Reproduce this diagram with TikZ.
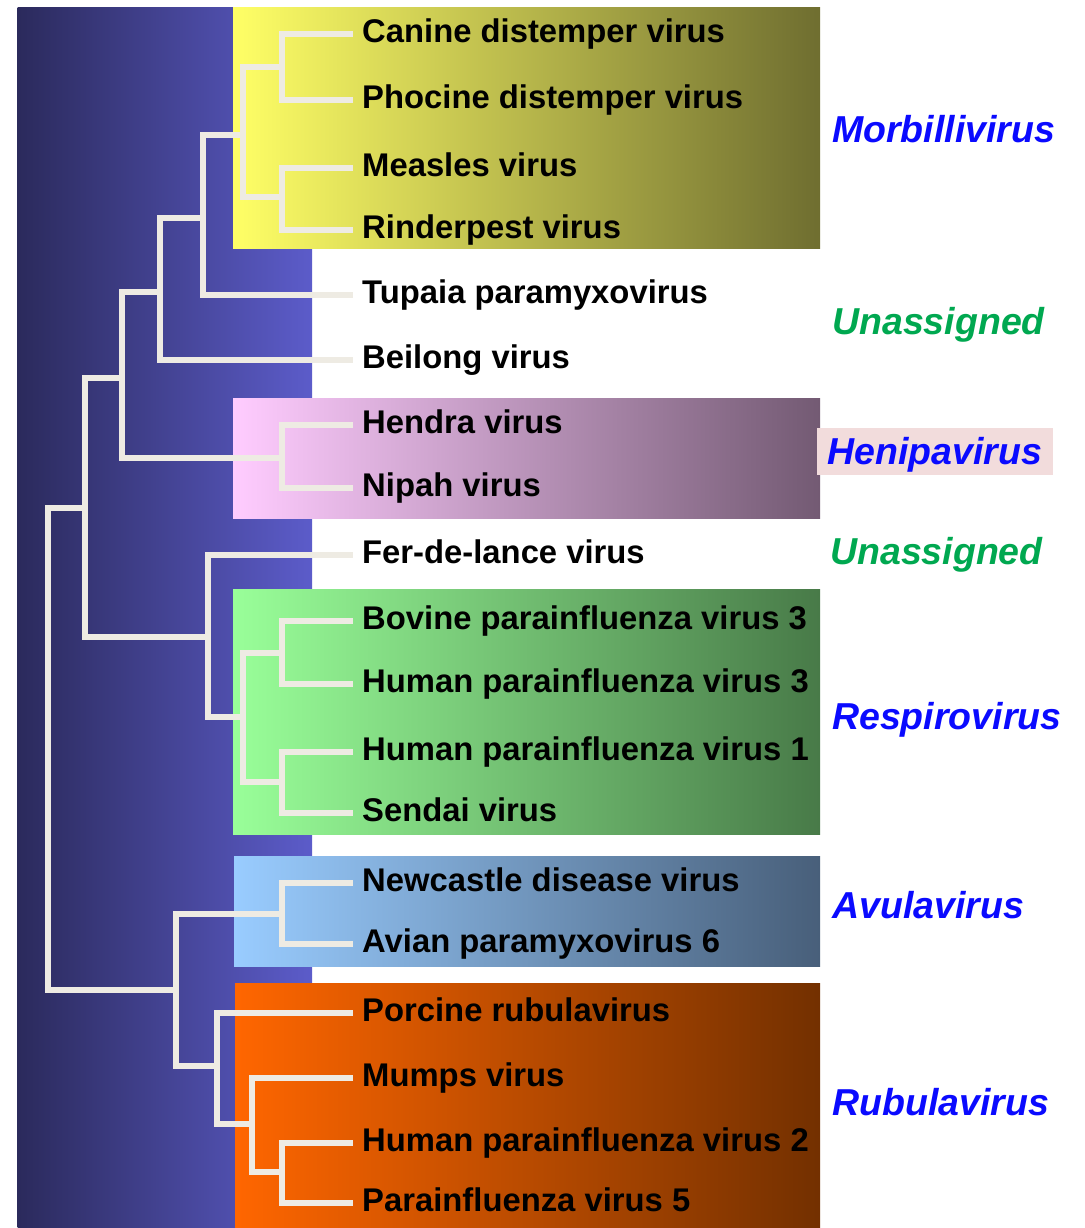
\documentclass[tikz,border=0pt]{standalone}
\usepackage{fontspec}
\setmainfont{Liberation Sans}
\usetikzlibrary{calc}
\definecolor{branchcol}{HTML}{EEEBE3}
\definecolor{panelL}{HTML}{2B2A5C}
\definecolor{panelR}{HTML}{5C5CCA}
\definecolor{morbL}{HTML}{FFFF66}
\definecolor{morbR}{HTML}{6F6E30}
\definecolor{heniL}{HTML}{FFCCFF}
\definecolor{heniR}{HTML}{735A73}
\definecolor{respL}{HTML}{99FF99}
\definecolor{respR}{HTML}{487A48}
\definecolor{avulL}{HTML}{99CCFF}
\definecolor{avulR}{HTML}{485F7A}
\definecolor{rubuL}{HTML}{FF6600}
\definecolor{rubuR}{HTML}{733000}
\definecolor{heniback}{HTML}{F2DCDC}
\definecolor{genusblue}{HTML}{0A0AFF}
\definecolor{unassgreen}{HTML}{00A850}

\begin{document}
\begin{tikzpicture}[x=1pt,y=-1pt,
  leaf/.style={anchor=west,inner xsep=9pt,inner ysep=0pt,text height=24pt,text depth=7pt,font=\fontsize{32.8}{36}\selectfont\bfseries},
  genus/.style={anchor=west,inner sep=0pt,text height=35pt,text depth=8.2pt,font=\fontsize{37.5}{40}\selectfont\bfseries\itshape,text=genusblue},
  unass/.style={genus,text=unassgreen},
  branch/.style={draw=branchcol,line width=6pt}]
  \useasboundingbox (0,0) rectangle (1084,1228);
  \shade[left color=panelL,right color=panelR] (17.5,7.5) rectangle (312,1228);
  \shade[left color=morbL,right color=morbR] (233,7.5) rectangle (820,248.5);
  \shade[left color=heniL,right color=heniR] (233,398) rectangle (820,518);
  \shade[left color=respL,right color=respR] (233,589.5) rectangle (820,834.5);
  \shade[left color=avulL,right color=avulR] (234,856) rectangle (820,966.5);
  \shade[left color=rubuL,right color=rubuR] (235,983) rectangle (820,1228);

  \node[leaf] (cdv) at (353,34) {Canine distemper virus};
  \node[leaf] (pdv) at (353,100) {Phocine distemper virus};
  \node[leaf] (mv) at (353,168) {Measles virus};
  \node[leaf] (rpv) at (353,230) {Rinderpest virus};
  \node[leaf] (tpmv) at (353,295) {Tupaia paramyxovirus};
  \node[leaf] (bev) at (353,360) {Beilong virus};
  \node[leaf] (hev) at (353,425) {Hendra virus};
  \node[leaf] (niv) at (353,488) {Nipah virus};
  \node[leaf] (fdlv) at (353,555) {Fer-de-lance virus};
  \node[leaf] (bpiv3) at (353,621) {Bovine parainfluenza virus 3};
  \node[leaf] (hpiv3) at (353,684) {Human parainfluenza virus 3};
  \node[leaf] (hpiv1) at (353,752) {Human parainfluenza virus 1};
  \node[leaf] (sev) at (353,813) {Sendai virus};
  \node[leaf] (ndv) at (353,883) {Newcastle disease virus};
  \node[leaf] (apmv6) at (353,944) {Avian paramyxovirus 6};
  \node[leaf] (porv) at (353,1013) {Porcine rubulavirus};
  \node[leaf] (muv) at (353,1078) {Mumps virus};
  \node[leaf] (hpiv2) at (353,1143) {Human parainfluenza virus 2};
  \node[leaf] (piv5) at (353,1203) {Parainfluenza virus 5};

  \coordinate (cdvpdv) at (282,67);
  \coordinate (mvrpv) at (282,197);
  \coordinate (morb) at (243,135);
  \coordinate (morbtp) at (203,218);
  \coordinate (morbbe) at (160,292);
  \coordinate (heni) at (282,458);
  \coordinate (morbheni) at (122,378);
  \coordinate (bovhum) at (282,653);
  \coordinate (humsen) at (282,782);
  \coordinate (resp) at (243,717);
  \coordinate (respfdl) at (208,637);
  \coordinate (upper) at (85,508);
  \coordinate (avul) at (282,914);
  \coordinate (hpivpiv) at (282,1172);
  \coordinate (mumhp) at (252,1124);
  \coordinate (rubu) at (217,1066);
  \coordinate (lower) at (176,990);
  \coordinate (root) at (48,749);

  \draw[branch] (cdvpdv) |- (cdv.west) (cdvpdv) |- (pdv.west);
  \draw[branch] (mvrpv) |- (mv.west) (mvrpv) |- (rpv.west);
  \draw[branch] (morb) |- (cdvpdv) (morb) |- (mvrpv);
  \draw[branch] (morbtp) |- (morb) (morbtp) |- (tpmv.west);
  \draw[branch] (morbbe) |- (morbtp) (morbbe) |- (bev.west);
  \draw[branch] (heni) |- (hev.west) (heni) |- (niv.west);
  \draw[branch] (morbheni) |- (morbbe) (morbheni) |- (heni);
  \draw[branch] (bovhum) |- (bpiv3.west) (bovhum) |- (hpiv3.west);
  \draw[branch] (humsen) |- (hpiv1.west) (humsen) |- (sev.west);
  \draw[branch] (resp) |- (bovhum) (resp) |- (humsen);
  \draw[branch] (respfdl) |- (fdlv.west) (respfdl) |- (resp);
  \draw[branch] (upper) |- (morbheni) (upper) |- (respfdl);
  \draw[branch] (avul) |- (ndv.west) (avul) |- (apmv6.west);
  \draw[branch] (hpivpiv) |- (hpiv2.west) (hpivpiv) |- (piv5.west);
  \draw[branch] (mumhp) |- (muv.west) (mumhp) |- (hpivpiv);
  \draw[branch] (rubu) |- (porv.west) (rubu) |- (mumhp);
  \draw[branch] (lower) |- (avul) (lower) |- (rubu);
  \draw[branch] (root) |- (upper) (root) |- (lower);

  \node[genus] (morbl) at (832,129) {Morbillivirus};
  \node[unass] (unass1) at (832,321) {Unassigned};
  \node[genus,anchor=center,fill=heniback,minimum width=236pt,minimum height=47pt] (henil) at (935,451.5) {Henipavirus};
  \node[unass] (unass2) at (830,551) {Unassigned};
  \node[genus] (respl) at (832,716) {Respirovirus};
  \node[genus] (avull) at (832,905) {Avulavirus};
  \node[genus] (rubul) at (832,1102) {Rubulavirus};
\end{tikzpicture}
\end{document}
